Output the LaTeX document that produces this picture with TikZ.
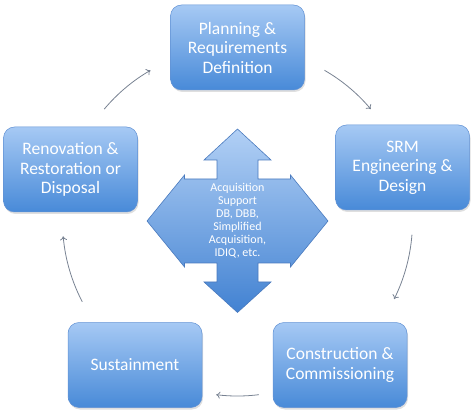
\documentclass[tikz,border=0pt]{standalone}
\usepackage{fontspec}
\setmainfont{Carlito}
\usetikzlibrary{arrows.meta,shadows}
\definecolor{boxtop}{RGB}{166,201,244}
\definecolor{boxbot}{RGB}{72,138,216}
\definecolor{boxline}{RGB}{98,146,212}
\definecolor{crosstop}{RGB}{178,208,245}
\definecolor{crossbot}{RGB}{66,130,210}
\definecolor{crossline}{RGB}{74,122,190}
\definecolor{arcgray}{RGB}{120,130,146}

\begin{document}
\begin{tikzpicture}[x=1pt, y=1pt,
    phase/.style={rectangle, rounded corners=11pt, minimum width=134pt, minimum height=85pt,
      top color=boxtop, bottom color=boxbot, draw=boxline, line width=0.5pt,
      drop shadow={opacity=0.25, shadow xshift=1pt, shadow yshift=-2pt},
      text=white, align=center, inner sep=0pt,
      font=\fontsize{17.5}{19.5}\selectfont},
    turn/.style={arcgray, line width=0.8pt, -{To[length=4pt, width=7pt]}}]
  \useasboundingbox (0,0) rectangle (474,410);
  \coordinate (cen) at (237.5,189);

  % the five phases
  \node[phase] (plan) at (237.5,362.5) {Planning \&\\Requirements\\Definition};
  \node[phase] (srm)  at (402.5,242.5) {SRM\\Engineering \&\\Design};
  \node[phase] (cons) at (340,45) {Construction \&\\Commissioning};
  \node[phase] (sust) at (135,45) {Sustainment};
  \node[phase] (reno) at (70.5,240.5) {Renovation \&\\Restoration or\\Disposal};

  % four-way arrow in the middle
  \draw[top color=crosstop, bottom color=crossbot, draw=crossline, line width=0.6pt]
    (237.5,281) -- (271,250) -- (258,250) -- (258,231) -- (290.5,231) -- (290.5,235)
    -- (328,189) -- (290.5,143) -- (290.5,147) -- (258,147) -- (258,128) -- (271,128)
    -- (237.5,97.5) -- (204,128) -- (217,128) -- (217,147) -- (184.5,147) -- (184.5,143)
    -- (147,189) -- (184.5,235) -- (184.5,231) -- (217,231) -- (217,250) -- (204,250)
    -- cycle;
  \node[text=white, align=center, font=\fontsize{12}{13}\selectfont] (acq) at (cen)
    {Acquisition\\Support\\DB, DBB,\\Simplified\\Acquisition,\\IDIQ, etc.};

  % cycle arrows
  \draw[turn] ([shift={(140:174)}]cen) arc[start angle=140, end angle=120, radius=174];
  \draw[turn] ([shift={(60:174)}]cen) arc[start angle=60, end angle=40, radius=174];
  \draw[turn] ([shift={(-4.5:175)}]cen) arc[start angle=-4.5, end angle=-26.5, radius=175];
  \draw[turn] ([shift={(-83:175)}]cen) arc[start angle=-83, end angle=-97, radius=175];
  \draw[turn] ([shift={(-152.5:175)}]cen) arc[start angle=-152.5, end angle=-175, radius=175];
\end{tikzpicture}
\end{document}
